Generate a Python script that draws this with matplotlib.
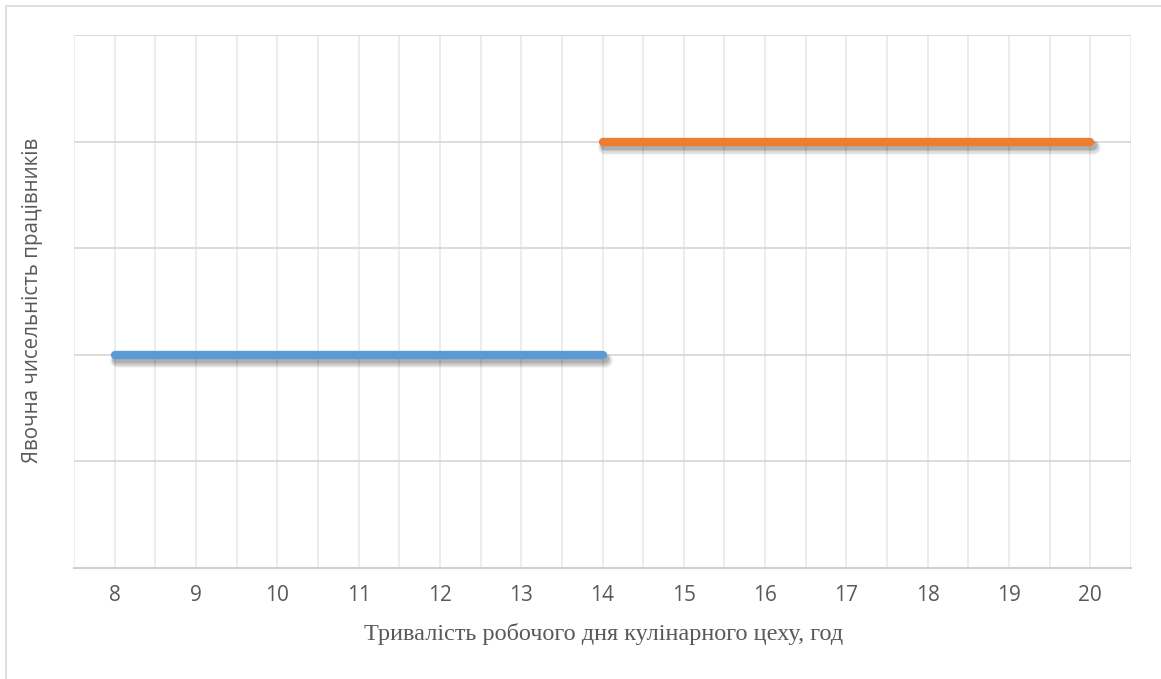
import numpy as np
import matplotlib
matplotlib.use("Agg")
import matplotlib.pyplot as plt
from matplotlib import patheffects as pe
from matplotlib.patches import Rectangle
from matplotlib.ticker import MultipleLocator

# Working day hours and staff on duty per shift
hours = [8, 9, 10, 11, 12, 13, 14, 15, 16, 17, 18, 19, 20]
shift_1 = [2, 2, 2, 2, 2, 2, 2, np.nan, np.nan, np.nan, np.nan, np.nan, np.nan]
shift_2 = [np.nan, np.nan, np.nan, np.nan, np.nan, np.nan, 4, 4, 4, 4, 4, 4, 4]

x_label = "Тривалість робочого дня кулінарного цеху, год"
y_label = "Явочна чисельність працівників"

W, H = 1161, 679
fig = plt.figure(figsize=(W / 100, H / 100), dpi=100)
fig.patch.set_facecolor("white")

# outer chart frame
fig.patches.append(Rectangle((6 / W, -0.05), 1.2, 1 - 6 / H + 0.05,
                             transform=fig.transFigure, fill=False,
                             edgecolor="#d9d9d9", linewidth=1.2))

ax = fig.add_axes([74 / W, 1 - 568 / H, (1131 - 74) / W, (568 - 35) / H])
ax.set_xlim(7.5, 20.5)
ax.set_ylim(0, 5)

ax.xaxis.set_major_locator(MultipleLocator(1))
ax.xaxis.set_minor_locator(MultipleLocator(0.5))
ax.yaxis.set_major_locator(MultipleLocator(1))
ax.grid(which="both", axis="x", color="#ebebeb", linewidth=1.3)
ax.grid(which="major", axis="y", color="#d9d9d9", linewidth=1.3)
ax.set_axisbelow(True)

for side in ("left", "right", "top"):
    ax.spines[side].set_visible(False)
ax.spines["bottom"].set_color("#d0d0d0")
ax.spines["bottom"].set_linewidth(1.5)

ax.tick_params(axis="both", which="both", length=0)
ax.tick_params(axis="x", pad=12, labelsize=15, labelcolor="#595959")
ax.set_yticklabels([])
ax.set_xticks(hours)
ax.set_xticklabels([str(h) for h in hours], fontfamily="Open Sans")

# soft drop shadow built from stacked translucent strokes
shadow = [
    pe.SimpleLineShadow(offset=(2, -4), shadow_color="black", alpha=0.05, linewidth=10.5),
    pe.SimpleLineShadow(offset=(2, -4), shadow_color="black", alpha=0.08, linewidth=9),
    pe.SimpleLineShadow(offset=(2, -3.5), shadow_color="black", alpha=0.10, linewidth=7.5),
    pe.SimpleLineShadow(offset=(2, -3), shadow_color="black", alpha=0.12, linewidth=6),
    pe.Normal(),
]

ax.plot(hours, shift_1, color="#5b9bd5", linewidth=6, solid_capstyle="round",
        path_effects=shadow, zorder=3)
ax.plot(hours, shift_2, color="#ed7d31", linewidth=6, solid_capstyle="round",
        path_effects=shadow, zorder=3)

fig.text(604 / W, 1 - 634 / H, x_label, ha="center", va="center",
         fontfamily="Liberation Serif", fontsize=17.5, color="#595959")
fig.text(33 / W, 1 - 300 / H, y_label, ha="center", va="center", rotation=90,
         fontfamily="Open Sans", fontsize=14.8, color="#595959")

fig.savefig("out.png", dpi=100, facecolor="white")
